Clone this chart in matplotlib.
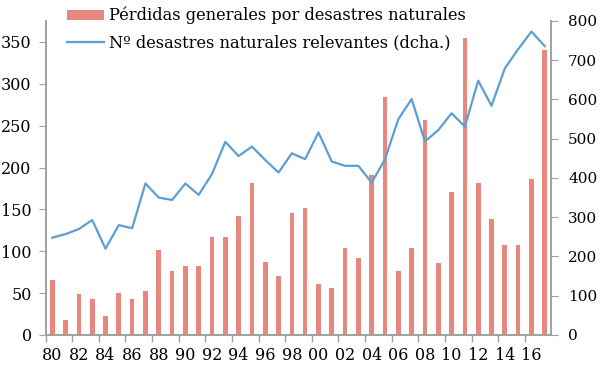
import matplotlib
matplotlib.use("Agg")
import matplotlib.pyplot as plt
import numpy as np

years = ["80", "81", "82", "83", "84", "85", "86", "87", "88", "89",
         "90", "91", "92", "93", "94", "95", "96", "97", "98", "99",
         "00", "01", "02", "03", "04", "05", "06", "07", "08", "09",
         "10", "11", "12", "13", "14", "15", "16", "17"]
perdidas = [66, 18, 49, 43, 23, 50, 43, 53, 102, 76,
            82, 82, 117, 117, 142, 182, 87, 71, 146, 152,
            61, 56, 104, 92, 191, 284, 76, 104, 257, 86,
            171, 355, 181, 138, 107, 107, 186, 340]
desastres = [248, 257, 270, 293, 220, 280, 272, 386, 350, 344,
             386, 357, 410, 492, 456, 480, 446, 414, 463, 448,
             516, 442, 431, 431, 388, 448, 550, 601, 493, 522,
             565, 531, 648, 584, 679, 728, 773, 736]
label_bar = "Pérdidas generales por desastres naturales"
label_line = "Nº desastres naturales relevantes (dcha.)"

bar_color = "#E8877E"
line_color = "#5B9FD4"
axis_color = "#A0A0A0"
font = ["DejaVu Serif"]
plt.rcParams["font.family"] = font

fig = plt.figure(figsize=(6.0, 3.67), dpi=100)
ax = fig.add_axes([0.076, 0.0872, 0.843, 0.8556])
ax2 = ax.twinx()

x = np.arange(len(years))
b = ax.bar(x, perdidas, width=0.35, color=bar_color, zorder=2, label=label_bar)
ln, = ax2.plot(x, desastres, color=line_color, lw=1.6, label=label_line)

ax.set_xlim(-0.5, len(years) - 0.5)
ax.set_ylim(0, 375)
ax2.set_ylim(0, 800)
ax.set_yticks(np.arange(0, 351, 50))
ax2.set_yticks(np.arange(0, 801, 100))
ax.set_xticks(x[::2])
ax.set_xticklabels(years[::2])
ax.set_xticks(np.arange(-0.5, len(years) - 0.5, 2), minor=True)
ax.tick_params(axis="x", which="major", length=0, pad=9, labelsize=11.5)
ax.tick_params(axis="x", which="minor", length=5, color=axis_color, width=1)
ax.tick_params(axis="y", length=5, color=axis_color, labelsize=11.5, pad=5)
ax2.tick_params(axis="y", length=5, color=axis_color, labelsize=11, pad=7)

for a in (ax, ax2):
    a.spines["top"].set_visible(False)
    for s in ("left", "right", "bottom"):
        a.spines[s].set_color(axis_color)
        a.spines[s].set_linewidth(1.2)

ax.set_zorder(ax2.get_zorder() - 1)
ax.patch.set_visible(False)
ax2.patch.set_visible(False)

fig.legend([b, ln], [label_bar, label_line], loc="upper left",
           bbox_to_anchor=(67 / 600, 1 - 7 / 367), frameon=False,
           fontsize=11.7, handlelength=2.3, handleheight=0.6, handletextpad=0.3,
           labelspacing=0.6, borderpad=0, borderaxespad=0)

fig.savefig("out.png", dpi=100)
